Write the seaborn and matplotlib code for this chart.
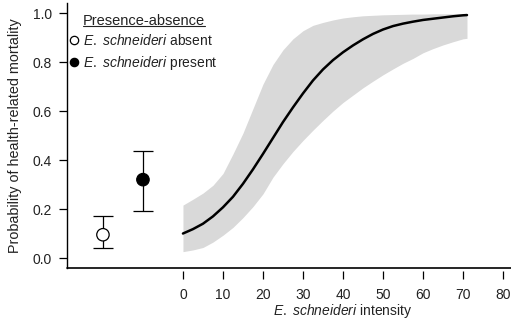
import numpy as np
import pandas as pd
import matplotlib
matplotlib.use('Agg')
import matplotlib.pyplot as plt
import seaborn as sns
from matplotlib.lines import Line2D

# Fitted curve for intensity
intensity = [0, 2.5, 5, 7.5, 10, 12.5, 15, 17.5, 20, 22.5, 25, 27.5, 30, 32.5, 35, 37.5,
             40, 42.5, 45, 47.5, 50, 52.5, 55, 57.5, 60, 62.5, 65, 67.5, 70, 71]
prob_fit = [0.100, 0.118, 0.140, 0.170, 0.207, 0.250, 0.303, 0.362, 0.425, 0.490, 0.555,
            0.615, 0.672, 0.725, 0.770, 0.808, 0.840, 0.868, 0.893, 0.915, 0.933, 0.947,
            0.957, 0.965, 0.972, 0.977, 0.982, 0.987, 0.991, 0.992]
prob_upper = [0.216, 0.240, 0.265, 0.297, 0.345, 0.425, 0.510, 0.610, 0.710, 0.790, 0.850,
              0.895, 0.928, 0.950, 0.962, 0.972, 0.980, 0.985, 0.989, 0.991, 0.993, 0.994,
              0.995, 0.996, 0.996, 0.997, 0.997, 0.997, 0.997, 0.997]
prob_lower = [0.026, 0.033, 0.043, 0.065, 0.093, 0.125, 0.165, 0.210, 0.262, 0.330, 0.385,
              0.435, 0.480, 0.522, 0.562, 0.600, 0.635, 0.665, 0.695, 0.722, 0.748, 0.772,
              0.795, 0.815, 0.838, 0.855, 0.870, 0.883, 0.895, 0.897]

# Presence-absence estimates
pa_labels = ['absent', 'present']
pa_x = [-20, -10]
pa_prob = [0.095, 0.32]
pa_low = [0.04, 0.19]
pa_high = [0.17, 0.435]

curve = pd.DataFrame({'x': intensity, 'p': prob_fit, 'lo': prob_lower, 'hi': prob_upper})
pa = pd.DataFrame({'x': pa_x, 'p': pa_prob, 'lo': pa_low, 'hi': pa_high, 'group': pa_labels})

sns.set_style('ticks')
plt.rcParams['font.family'] = ['Liberation Sans', 'DejaVu Sans']
plt.rcParams['mathtext.fontset'] = 'custom'
plt.rcParams['mathtext.it'] = 'Liberation Sans:italic'
plt.rcParams['mathtext.rm'] = 'Liberation Sans'

fig = plt.figure(figsize=(5.11, 3.21), dpi=100)
ax = fig.add_axes([0.131, 0.1657, 0.869, 0.824])

# confidence band + fitted line
ax.fill_between(curve['x'], curve['lo'], curve['hi'], color='#d9d9d9', lw=0)
sns.lineplot(data=curve, x='x', y='p', color='black', lw=1.8, ax=ax)

# presence-absence points with error bars
ax.errorbar(pa['x'], pa['p'], yerr=[pa['p'] - pa['lo'], pa['hi'] - pa['p']],
            fmt='none', ecolor='black', elinewidth=0.9, capsize=7, capthick=0.9)
sns.scatterplot(data=pa, x='x', y='p', hue='group', palette={'absent': 'white', 'present': 'black'},
                edgecolor='black', linewidth=0.9, s=80, legend=False, ax=ax, zorder=3)

ax.set_xlim(-29, 82)
ax.set_ylim(-0.04, 1.04)
ax.set_xticks(range(0, 81, 10))
ax.set_yticks([0, 0.2, 0.4, 0.6, 0.8, 1.0])
ax.set_yticklabels(['0.0', '0.2', '0.4', '0.6', '0.8', '1.0'])

for s in ['top', 'right']:
    ax.spines[s].set_visible(False)
ax.spines['left'].set_linewidth(1)
ax.spines['left'].set_color('black')
ax.spines['bottom'].set_position(('outward', 2.5))
ax.spines['bottom'].set_visible(False)
ax.axhline(-0.04, color='black', lw=1.2, clip_on=False)

ax.tick_params(axis='both', direction='out', length=6, width=0.9, color='black',
               labelsize=10, labelcolor='#222222')
ax.tick_params(axis='x', pad=6)
ax.tick_params(axis='y', pad=5)

ax.set_ylabel('Probability of health-related mortality', fontsize=10.4, color='#222222')
ax.yaxis.set_label_coords(-0.102, 0.5)
ax.set_xlabel(r'$\it{E.\ schneideri}$ intensity', fontsize=10, color='#222222')
ax.xaxis.set_label_coords(0.6216, -0.128)

handles = [
    Line2D([], [], marker='o', ls='none', mfc='white', mec='black', mew=0.9, ms=6),
    Line2D([], [], marker='o', ls='none', mfc='black', mec='black', mew=0.9, ms=6),
]
leg = ax.legend(handles, [r'$\it{E.\ schneideri}$ absent', r'$\it{E.\ schneideri}$ present'],
                loc='upper left', bbox_to_anchor=(-0.005, 0.982), frameon=False,
                title='Presence-absence', title_fontsize=10.5, fontsize=10,
                handlelength=0.6, handletextpad=0.35, labelspacing=0.4, borderaxespad=0)
for t in leg.get_texts():
    t.set_color('#222222')
leg.get_title().set_color('#222222')

# underline the legend title
fig.canvas.draw()
bb = leg.get_title().get_window_extent().transformed(fig.transFigure.inverted())
fig.add_artist(Line2D([bb.x0, bb.x1], [bb.y0 + 0.004, bb.y0 + 0.004], color='#222222', lw=0.8,
                      transform=fig.transFigure))

fig.savefig('out.png', dpi=100)
